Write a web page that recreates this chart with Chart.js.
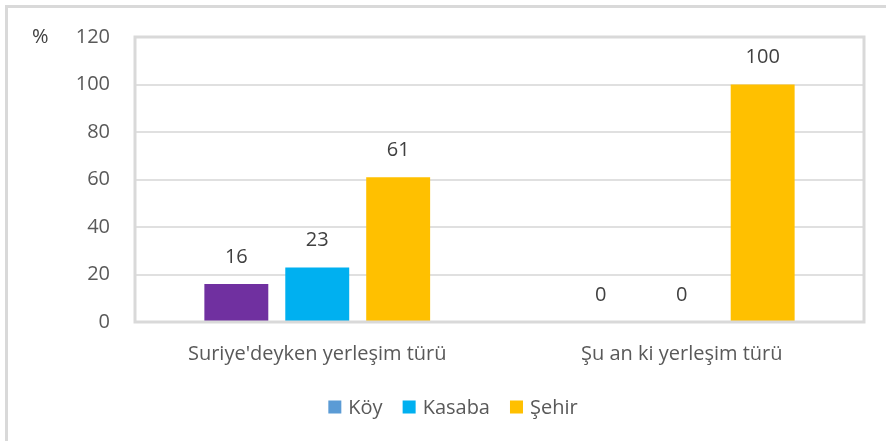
<!DOCTYPE html>
<html><head><meta charset="utf-8">
<script src="https://cdn.jsdelivr.net/npm/chart.js@4"></script>
<style>html,body{margin:0;padding:0;background:#fff;}#wrap{width:886px;height:441px;position:relative;}</style>
</head><body><div id="wrap"><canvas id="c" width="886" height="441"></canvas></div>
<script>
const categories = ["Suriye'deyken yerleşim türü", "Şu an ki yerleşim türü"];
const seriesNames = ["Köy", "Kasaba", "Şehir"];
const koy = [16, 0];
const kasaba = [23, 0];
const sehir = [61, 100];
const yTicks = [0, 20, 40, 60, 80, 100, 120];
const barColors = ["#7030A0", "#00B0F0", "#FFC000"];
const legendColors = ["#5B9BD5", "#00B0F0", "#FFC000"];

const FONT = "'Open Sans', sans-serif";
const FS = 20;

const framePlugin = {
  id: 'frame',
  beforeDraw(chart) {
    const ctx = chart.ctx;
    ctx.save();
    ctx.fillStyle = '#fff';
    ctx.fillRect(0, 0, chart.width, chart.height);
    ctx.strokeStyle = '#D9D9D9';
    ctx.lineWidth = 3;
    ctx.strokeRect(6.5, 6.5, chart.width + 20, chart.height + 20);
    ctx.restore();
  },
  afterDraw(chart) {
    const ctx = chart.ctx, a = chart.chartArea;
    ctx.save();
    ctx.strokeStyle = '#D9D9D9';
    ctx.lineWidth = 3;
    ctx.strokeRect(a.left, a.top, a.right - a.left, a.bottom - a.top);
    // % label
    ctx.fillStyle = '#404040';
    ctx.font = FS + 'px ' + FONT;
    ctx.textAlign = 'left';
    ctx.textBaseline = 'middle';
    ctx.fillText('%', 32, chart.scales.y.getPixelForValue(120));
    // legend
    const box = 13, gapT = 7, gapI = 20;
    let widths = seriesNames.map(n => ctx.measureText(n).width);
    let total = widths.reduce((s, w) => s + box + gapT + w, 0) + gapI * (seriesNames.length - 1);
    let x = 453 - total / 2;
    const y = 407;
    seriesNames.forEach((n, i) => {
      ctx.fillStyle = legendColors[i];
      ctx.fillRect(x, y - box / 2, box, box);
      ctx.fillStyle = '#595959';
      ctx.fillText(n, x + box + gapT, y + 1);
      x += box + gapT + widths[i] + gapI;
    });
    ctx.restore();
  },
  afterDatasetsDraw(chart) {
    const ctx = chart.ctx;
    ctx.save();
    ctx.fillStyle = '#404040';
    ctx.font = FS + 'px ' + FONT;
    ctx.textAlign = 'center';
    ctx.textBaseline = 'middle';
    chart.data.datasets.forEach((ds, di) => {
      const meta = chart.getDatasetMeta(di);
      meta.data.forEach((bar, i) => {
        ctx.fillText(String(ds.data[i]), bar.x, bar.y - 27);
      });
    });
    ctx.restore();
  }
};

new Chart(document.getElementById('c'), {
  type: 'bar',
  data: {
    labels: categories,
    datasets: [
      { label: seriesNames[0], data: koy, backgroundColor: barColors[0] },
      { label: seriesNames[1], data: kasaba, backgroundColor: barColors[1] },
      { label: seriesNames[2], data: sehir, backgroundColor: barColors[2] }
    ]
  },
  options: {
    responsive: false,
    animation: false,
    layout: { padding: { top: 36, right: 22, left: 0, bottom: 0 } },
    categoryPercentage: 0.666,
    barPercentage: 0.79,
    plugins: { legend: { display: false }, tooltip: { enabled: false } },
    scales: {
      x: {
        grid: { display: false, drawTicks: false },
        border: { display: false },
        ticks: { color: '#595959', font: { family: FONT, size: FS }, padding: 20 },
        afterFit(s) { s.height = 119; }
      },
      y: {
        min: 0, max: 120,
        afterBuildTicks(s) { s.ticks = yTicks.map(v => ({ value: v })); },
        grid: { color: '#E0E0E0', lineWidth: 2, drawTicks: false },
        border: { display: false },
        ticks: { color: '#595959', font: { family: FONT, size: FS }, padding: 25 },
        afterFit(s) { s.width = 135; }
      }
    }
  },
  plugins: [framePlugin]
});
</script></body></html>
